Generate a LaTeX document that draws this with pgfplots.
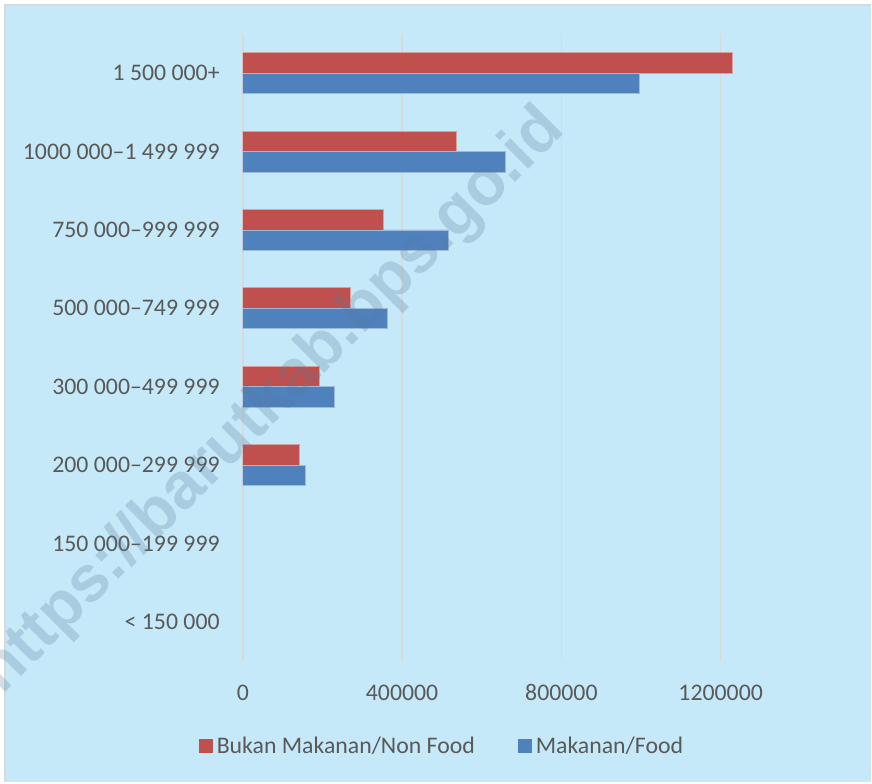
\documentclass[border=0pt]{standalone}
\usepackage{pgfplots}
\pgfplotsset{compat=1.18}
\usepackage{fontspec}
\setmainfont{Carlito}
\newfontfamily\wmfont{Liberation Sans}
\definecolor{bg}{HTML}{C5E9F8}
\definecolor{frame}{HTML}{D9D9D9}
\definecolor{gridc}{HTML}{D9D9D9}
\definecolor{txt}{HTML}{595959}
\definecolor{nonfood}{HTML}{C0504D}
\definecolor{food}{HTML}{4F81BD}
\definecolor{wm}{RGB}{89,121,156}
\newcommand{\lblfont}{\fontsize{23.8bp}{28bp}\selectfont}
\begin{document}
\begin{tikzpicture}[x=1bp,y=1bp]
\fill[white] (0,0) rectangle (872,783);
\fill[bg] (4.5,0) rectangle (872,778.5);
\draw[frame, line width=1.5bp] (5,0) -- (5,778) -- (872,778);
\begin{axis}[
  at={(243bp,121.5bp)}, anchor=south west,
  scale only axis, width=558bp, height=627.5bp,
  xbar, bar width=20.5bp,
  xmin=0, xmax=1400000,
  ymin=-0.5, ymax=7.5,
  scaled x ticks=false,
  axis line style={draw=none},
  major tick length=0pt,
  xmajorgrids, grid style={gridc, line width=1.5bp},
  xtick={0,400000,800000,1200000},
  xticklabels={0,400000,800000,1200000},
  ytick={0,1,2,3,4,5,6,7},
  yticklabels={{< 150 000},{150 000–199 999},{200 000–299 999},{300 000–499 999},{500 000–749 999},{750 000–999 999},{1000 000–1 499 999},{1 500 000+}},
  tick label style={font=\lblfont, text=txt, inner sep=0pt},
  yticklabel style={anchor=east, xshift=-23bp},
  xticklabel style={anchor=north, yshift=-23.5bp},
  legend style={at={(0.359,-0.136)}, anchor=center, draw=none, fill=none,
    legend columns=2, font=\lblfont, text=txt,
    nodes={inner sep=3.5bp, anchor=west},
    /tikz/every even column/.append style={column sep=40bp}},
  legend image code/.code={\fill[#1,draw=none] (0bp,-7bp) rectangle (14bp,7bp);},
]
\addplot[fill=nonfood, draw=nonfood!55!white, line width=0.6bp, bar shift=10.25bp]
  coordinates {(1228000,7) (537000,6) (352000,5) (270000,4) (193000,3) (141000,2)};
\addlegendentry{Bukan Makanan/Non Food}
\addplot[fill=food, draw=food!55!white, line width=0.6bp, bar shift=-10.25bp]
  coordinates {(995000,7) (660000,6) (516000,5) (362000,4) (229000,3) (157000,2)};
\addlegendentry{Makanan/Food}
\end{axis}
\node[overlay, rotate=45, font=\fontsize{65bp}{65bp}\selectfont\wmfont\bfseries, text=wm, opacity=0.25] at (273,381) {https://barutkab.bps.go.id};
\end{tikzpicture}
\end{document}
